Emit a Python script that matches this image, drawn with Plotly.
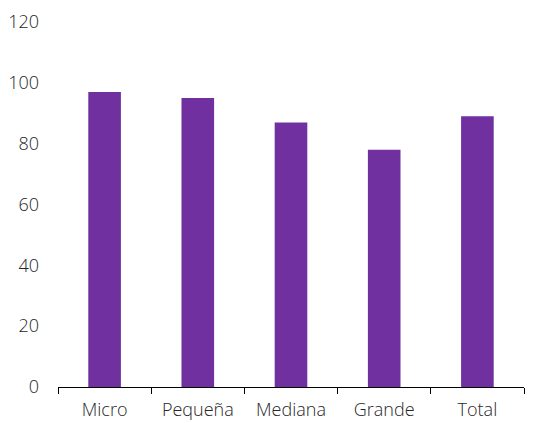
import plotly.graph_objects as go

categories = ["Micro", "Pequeña", "Mediana", "Grande", "Total"]
values = [97, 95, 87, 78, 89]
y_ticks = [0, 20, 40, 60, 80, 100, 120]

fig = go.Figure(go.Bar(x=categories, y=values, marker_color="#7030A0", marker_line_width=0))

font = dict(family="Open Sans", size=18, color="#262626", weight=300)
fig.update_layout(
    width=533, height=423,
    margin=dict(l=58, r=9, t=22, b=36),
    paper_bgcolor="white", plot_bgcolor="white",
    bargap=0.65,
    showlegend=False,
    font=font,
)
fig.update_xaxes(
    showline=True, linecolor="#000000", linewidth=1.3,
    ticks="outside", tickson="boundaries", ticklen=6, tickcolor="#000000", tickwidth=1.3,
    showgrid=False, tickfont=font, ticklabelstandoff=6, automargin=False,
)
fig.update_yaxes(
    range=[0, 120], tickvals=y_ticks, showgrid=False, zeroline=False, showline=False,
    tickfont=font, ticklabelstandoff=18, automargin=False,
)
fig.write_html(
    "out.html",
    config={"displayModeBar": False},
    post_script="document.body.style.margin='0';document.body.style.overflow='hidden';",
)
